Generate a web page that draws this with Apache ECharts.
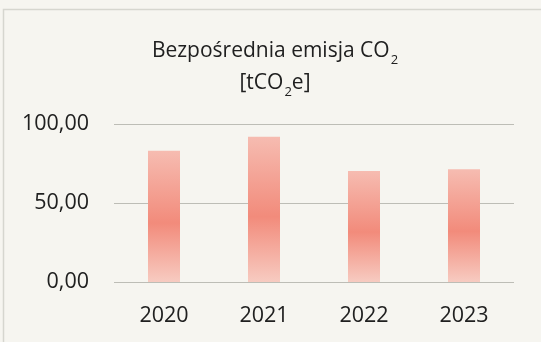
<!DOCTYPE html>
<html><head><meta charset="utf-8">
<script src="https://cdn.jsdelivr.net/npm/echarts@6/dist/echarts.min.js"></script>
<style>html,body{margin:0;padding:0;background:#f6f5f0;}#c{width:541px;height:342px;}</style>
</head><body><div id="c"></div>
<script>
const categories = ['2020', '2021', '2022', '2023'];
const values = [83.0, 92.0, 70.3, 71.3];
const yTicks = [0, 50, 100];

const chart = echarts.init(document.getElementById('c'), null, {renderer: 'canvas'});
const font = '"Open Sans", "Noto Sans", sans-serif';
chart.setOption({
  backgroundColor: '#f6f5f0',
  animation: false,
  graphic: [{
    type: 'rect', shape: {x: 3.5, y: 9.5, width: 560, height: 400},
    style: {fill: 'none', stroke: '#d6d6cf', lineWidth: 1.5}, silent: true
  }],
  title: {
    left: 270, top: 30, textAlign: 'center',
    text: '{m|Bezpośrednia emisja CO}{s|2}\n{m|[tCO}{s|2}{m|e]}',
    textStyle: {
      rich: {
        m: {fontFamily: font, fontSize: 21, fontWeight: 'normal', color: '#202020', lineHeight: 32},
        s: {fontFamily: font, fontSize: 13, fontWeight: 'normal', color: '#202020', lineHeight: 13, verticalAlign: 'bottom', padding: [0,0,0,1]}
      }
    }
  },
  grid: {left: 114, right: 27, top: 124, bottom: 60},
  xAxis: {
    type: 'category', data: categories,
    axisLine: {show: false}, axisTick: {show: false},
    axisLabel: {fontFamily: font, fontSize: 21.5, color: '#202020', margin: 23}
  },
  yAxis: {
    type: 'value', min: 0, max: 100, interval: 50,
    axisLine: {show: false}, axisTick: {show: false},
    splitLine: {lineStyle: {color: '#bdbdb6', width: 1.2}},
    axisLabel: {fontFamily: font, fontSize: 21.5, color: '#202020', margin: 25,
      formatter: v => yTicks.includes(v) ? v.toFixed(2).replace('.', ',') : ''}
  },
  series: [{
    type: 'bar', data: values, barWidth: 32,
    itemStyle: {
      color: new echarts.graphic.LinearGradient(0, 0, 0, 1, [
        {offset: 0, color: '#f6bcb1'},
        {offset: 0.55, color: '#f28b7b'},
        {offset: 1, color: '#f7cbc1'}
      ])
    }
  }]
});
</script></body></html>
